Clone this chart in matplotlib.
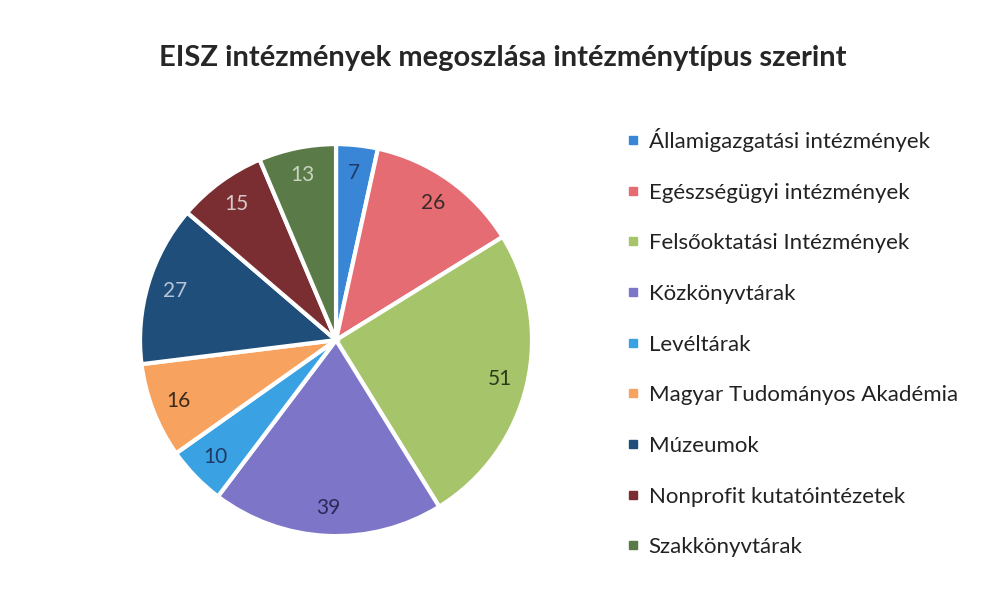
import matplotlib.pyplot as plt
from matplotlib.lines import Line2D

plt.rcParams['font.family'] = ['Lato', 'DejaVu Sans']

# adatok
categories = ['Államigazgatási intézmények', 'Egészségügyi intézmények',
              'Felsőoktatási Intézmények', 'Közkönyvtárak', 'Levéltárak',
              'Magyar Tudományos Akadémia', 'Múzeumok',
              'Nonprofit kutatóintézetek', 'Szakkönyvtárak']
values = [7, 26, 51, 39, 10, 16, 27, 15, 13]
colors = ['#3a86d6', '#e46c72', '#a6c46a', '#7d76c8', '#3aa2e2',
          '#f7a25e', '#1f4e7a', '#7a2e32', '#5a7a48']
label_colors = ['#1f3a66', '#3a2a2a', '#2a3a1a', '#2a2a5a', '#1f3a66',
                '#3a2a1a', '#b8c4d8', '#d8c8c8', '#c8d4c0']

fig = plt.figure(figsize=(9.86, 5.93), dpi=100)
fig.patch.set_facecolor('white')

ax = fig.add_axes([0.142, 0.096, 0.3976, 0.661])
wedges, texts, autotexts = ax.pie(
    values, colors=colors, startangle=90, counterclock=False,
    wedgeprops=dict(edgecolor='white', linewidth=3),
    autopct=lambda p: '{:.0f}'.format(p * sum(values) / 100),
    pctdistance=0.86, textprops=dict(fontsize=15))
for t, c in zip(autotexts, label_colors):
    t.set_color(c)
ax.set_xlim(-1, 1)
ax.set_ylim(-1, 1)
ax.set_aspect('equal')

fig.text(0.51, 0.902, 'EISZ intézmények megoszlása intézménytípus szerint',
         ha='center', va='center', fontsize=21, weight='bold', color='#262626')

handles = [Line2D([], [], marker='s', linestyle='none', markersize=6,
                  markerfacecolor=c, markeredgecolor=c) for c in colors]
fig.legend(handles, categories, loc='upper left',
           bbox_to_anchor=(0.615, 0.818), frameon=False, fontsize=16,
           handlelength=0.6, handletextpad=0.4, labelspacing=1.38,
           labelcolor='#222222')

fig.savefig('out.png', dpi=100)
